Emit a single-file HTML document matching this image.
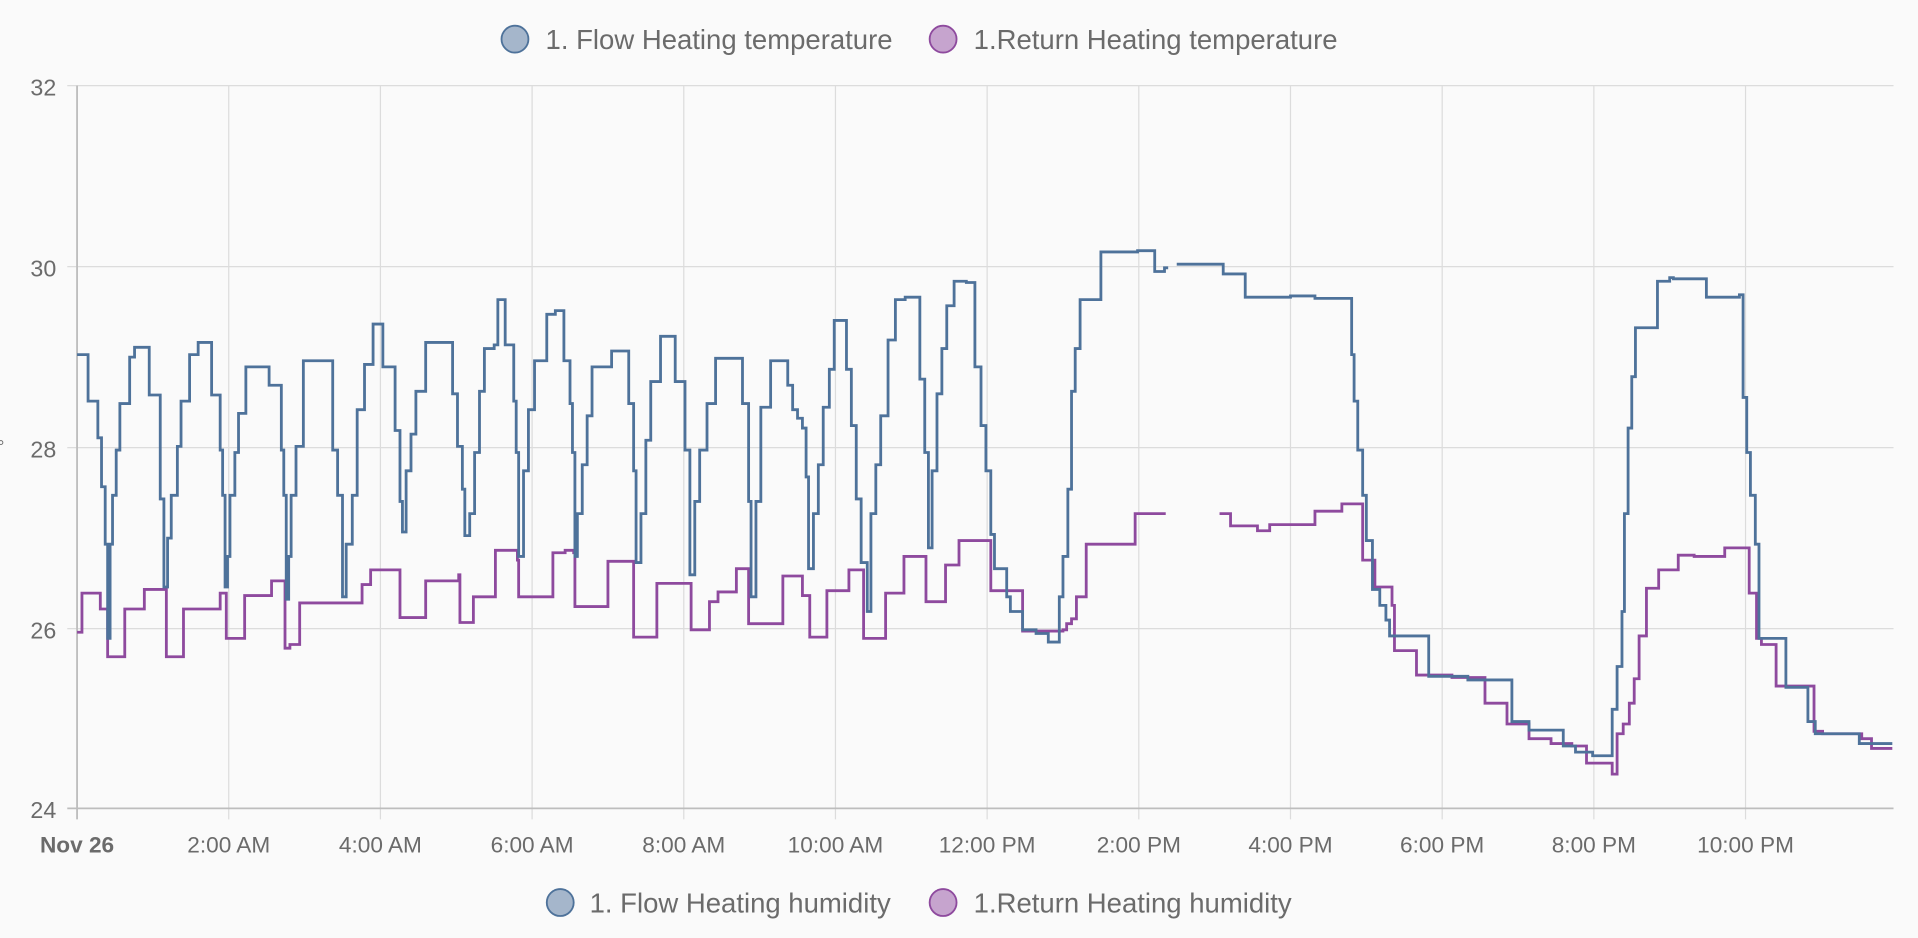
<!DOCTYPE html>
<html><head><meta charset="utf-8"><style>
html,body{margin:0;padding:0;background:#fafafa;}
svg{display:block;}
text{font-family:"Liberation Sans",sans-serif;fill:#6b6b6b;}
</style></head><body>
<svg width="1918" height="938" viewBox="0 0 1568 767" preserveAspectRatio="none" xmlns="http://www.w3.org/2000/svg">
<rect width="1568" height="767" fill="#fafafa"/>
<g stroke="#dcdcdc" stroke-width="1">
<line x1="55" y1="70" x2="1548" y2="70"/><line x1="55" y1="218" x2="1548" y2="218"/>
<line x1="55" y1="366" x2="1548" y2="366"/><line x1="55" y1="514" x2="1548" y2="514"/>
<line x1="187" y1="70" x2="187" y2="670"/><line x1="311" y1="70" x2="311" y2="670"/>
<line x1="435" y1="70" x2="435" y2="670"/><line x1="559" y1="70" x2="559" y2="670"/>
<line x1="683" y1="70" x2="683" y2="670"/><line x1="807" y1="70" x2="807" y2="670"/>
<line x1="931" y1="70" x2="931" y2="670"/><line x1="1055" y1="70" x2="1055" y2="670"/>
<line x1="1179" y1="70" x2="1179" y2="670"/><line x1="1303" y1="70" x2="1303" y2="670"/>
<line x1="1427" y1="70" x2="1427" y2="670"/>
</g>
<line x1="63" y1="70" x2="63" y2="670" stroke="#bdbdbd" stroke-width="1.5"/>
<line x1="55" y1="661" x2="1548" y2="661" stroke="#bdbdbd" stroke-width="1.5"/>
<g font-size="19" text-anchor="end">
<text x="46" y="78">32</text><text x="46" y="226">30</text><text x="46" y="374">28</text>
<text x="46" y="522">26</text><text x="46" y="669">24</text>
</g>
<text x="-2" y="370" font-size="14">°</text>
<g font-size="18.5" text-anchor="middle">
<text x="63" y="697" font-weight="bold">Nov 26</text>
<text x="187" y="697">2:00 AM</text><text x="311" y="697">4:00 AM</text><text x="435" y="697">6:00 AM</text>
<text x="559" y="697">8:00 AM</text><text x="683" y="697">10:00 AM</text><text x="807" y="697">12:00 PM</text>
<text x="931" y="697">2:00 PM</text><text x="1055" y="697">4:00 PM</text><text x="1179" y="697">6:00 PM</text>
<text x="1303" y="697">8:00 PM</text><text x="1427" y="697">10:00 PM</text>
</g>
<g font-size="22.5">
<circle cx="421" cy="32" r="11" fill="#a5b6cb" stroke="#4e729a" stroke-width="1.5"/>
<text x="446" y="40">1. Flow Heating temperature</text>
<circle cx="771" cy="32" r="11" fill="#c6a4ce" stroke="#8e4a9e" stroke-width="1.5"/>
<text x="796" y="40">1.Return Heating temperature</text>
<circle cx="458" cy="738" r="11" fill="#a5b6cb" stroke="#4e729a" stroke-width="1.5"/>
<text x="482" y="746">1. Flow Heating humidity</text>
<circle cx="771" cy="738" r="11" fill="#c6a4ce" stroke="#8e4a9e" stroke-width="1.5"/>
<text x="796" y="746">1.Return Heating humidity</text>
</g>
<path fill="none" stroke="#8e4a9e" stroke-width="2.3" d="M63 517 H67 V485 H82 V498 H88 V537 H102 V498 H118 V482 H136 V537 H150 V498 H180 V485 H185 V522 H200 V487 H222 V475 H233 V530 H237 V527 H245 V493 H296 V478 H303 V466 H327 V505 H348 V475 H375 V470 H376 V509 H387 V488 H405 V450 H423 V458 H424 V488 H452 V452 H462 V450 H469 V452 H470 V496 H497 V459 H518 V521 H537 V477 H565 V515 H580 V492 H587 V484 H602 V465 H612 V510 H640 V471 H656 V487 H662 V521 H676 V483 H694 V466 H706 V522 H724 V485 H739 V455 H757 V492 H773 V462 H784 V442 H810 V483 H836 V516 H869 V515 H872 V510 H876 V506 H880 V488 H888 V445 H928 V420 H953 M997 420 H1006 V430 H1028 V434 H1038 V429 H1075 V418 H1097 V412 H1114 V458 H1124 V480 H1138 V495 H1140 V532 H1158 V552 H1187 V554 H1214 V575 H1232 V592 H1250 V604 H1268 V608 H1285 V610 H1297 V624 H1318 V633 H1322 V600 H1327 V592 H1332 V575 H1336 V555 H1340 V520 H1346 V481 H1356 V466 H1372 V454 H1385 V455 H1410 V448 H1430 V485 H1436 V522 H1440 V527 H1452 V561 H1483 V598 H1490 V600 H1522 V604 H1530 V612 H1547"/>
<path fill="none" stroke="#4e729a" stroke-width="2.3" d="M63 290 H72 V328 H80 V358 H83 V398 H86 V445 H88 V522 H90 V445 H92 V405 H95 V368 H98 V330 H106 V292 H110 V284 H122 V323 H131 V408 H134 V480 H137 V440 H140 V405 H145 V365 H148 V328 H155 V290 H162 V280 H173 V323 H180 V368 H182 V405 H184 V480 H186 V455 H188 V405 H192 V370 H195 V338 H201 V300 H220 V315 H230 V368 H232 V405 H234 V490 H236 V455 H238 V405 H242 V365 H248 V295 H272 V368 H276 V405 H280 V488 H283 V445 H288 V405 H292 V335 H298 V298 H305 V265 H313 V300 H323 V352 H327 V410 H329 V435 H332 V385 H336 V355 H340 V320 H348 V280 H370 V322 H374 V365 H378 V400 H380 V438 H384 V420 H388 V370 H392 V320 H396 V285 H404 V282 H407 V245 H413 V282 H420 V328 H422 V370 H424 V455 H428 V385 H432 V335 H437 V295 H447 V257 H454 V254 H461 V295 H466 V330 H468 V370 H470 V455 H472 V420 H476 V380 H480 V340 H484 V300 H500 V287 H514 V330 H518 V385 H520 V460 H524 V420 H528 V360 H532 V312 H540 V275 H552 V312 H560 V368 H564 V470 H568 V410 H572 V368 H578 V330 H585 V293 H607 V330 H612 V410 H614 V488 H618 V410 H622 V333 H630 V295 H644 V315 H648 V335 H652 V342 H656 V350 H659 V390 H661 V465 H665 V420 H669 V380 H673 V333 H678 V302 H682 V262 H692 V302 H696 V348 H700 V408 H704 V460 H709 V500 H712 V420 H716 V380 H720 V340 H726 V278 H732 V245 H740 V243 H752 V310 H756 V370 H759 V448 H762 V385 H766 V322 H770 V285 H774 V250 H780 V230 H790 V231 H797 V300 H802 V348 H806 V385 H810 V437 H813 V465 H823 V488 H826 V500 H836 V515 H847 V518 H857 V525 H866 V488 H869 V455 H873 V400 H876 V320 H879 V285 H883 V245 H900 V206 H930 V205 H944 V222 H952 V219 H955 M962 216 H1000 V224 H1018 V243 H1055 V242 H1075 V244 H1105 V290 H1107 V328 H1110 V368 H1114 V405 H1117 V442 H1122 V482 H1128 V495 H1133 V507 H1136 V520 H1168 V553 H1200 V556 H1236 V590 H1250 V597 H1278 V610 H1288 V615 H1302 V618 H1318 V580 H1322 V545 H1326 V500 H1328 V420 H1331 V350 H1334 V308 H1337 V268 H1355 V230 H1365 V227 H1368 V228 H1395 V243 H1422 V241 H1425 V325 H1428 V370 H1431 V405 H1435 V445 H1438 V522 H1460 V562 H1478 V590 H1484 V600 H1520 V608 H1547"/>
</svg>
</body></html>
